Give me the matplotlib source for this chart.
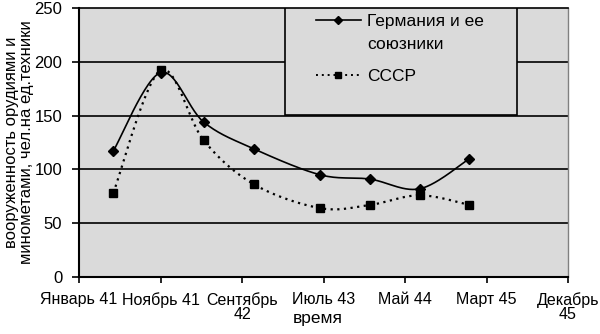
import numpy as np
import matplotlib
matplotlib.use('Agg')
import matplotlib.pyplot as plt
from matplotlib.patches import Rectangle
from matplotlib.lines import Line2D

plt.rcParams['font.family'] = ['Liberation Sans', 'DejaVu Sans']

# months since January 1941
tick_pos = [0, 10, 20, 30, 40, 50, 60]
tick_labels = ['Январь 41', 'Ноябрь 41', 'Сентябрь\n42', 'Июль 43', 'Май 44', 'Март 45', 'Декабрь\n45']

x_points = [4.2, 10.0, 15.3, 21.5, 29.6, 35.7, 41.8, 47.9]
germany = [117, 190, 144, 119, 95, 91, 82, 110]
ussr = [78, 192, 127, 86, 64, 67, 76, 67]

bg = '#dadada'


def smooth(xs, ys, n=30):
    # Catmull-Rom style smoothing like Excel's smoothed lines
    p = np.column_stack([xs, ys]).astype(float)
    pts = np.vstack([p[0], p, p[-1]])
    out = []
    t = np.linspace(0, 1, n)[:, None]
    for i in range(1, len(pts) - 2):
        p0, p1, p2, p3 = pts[i - 1], pts[i], pts[i + 1], pts[i + 2]
        c1 = p1 + (p2 - p0) / 6
        c2 = p2 - (p3 - p1) / 6
        seg = ((1 - t) ** 3) * p1 + 3 * ((1 - t) ** 2) * t * c1 + 3 * (1 - t) * t ** 2 * c2 + t ** 3 * p2
        out.append(seg)
    out = np.vstack(out)
    return out[:, 0], out[:, 1]


fig = plt.figure(figsize=(6, 3.34), dpi=100)
ax = fig.add_axes([0.1317, 0.1707, 0.815, 0.805])
ax.set_facecolor(bg)

ax.set_xlim(0, 60)
ax.set_ylim(0, 250)
ax.set_yticks([0, 50, 100, 150, 200, 250])
ax.set_xticks(tick_pos)
ax.set_xticklabels(tick_labels, fontsize=11.5, linespacing=0.95)
ax.tick_params(axis='y', labelsize=12, length=5, width=1.2, direction='out', pad=7)
ax.tick_params(axis='x', length=4, width=1.2, direction='out', pad=7)

for v in [50, 100, 150, 200]:
    ax.axhline(v, color='black', lw=1.2, zorder=1)

ax.spines['right'].set_color('#808080')
ax.spines['right'].set_linewidth(1)
ax.spines['top'].set_linewidth(1.2)
ax.spines['left'].set_linewidth(1.5)
ax.spines['bottom'].set_linewidth(1.5)

gx, gy = smooth(x_points, germany)
ax.plot(gx, gy, '-', color='black', lw=1.2, zorder=3)
ax.plot(x_points, germany, 'D', color='black', ms=5, zorder=4)

ux, uy = smooth(x_points, ussr)
ax.plot(ux, uy, color='black', lw=1.6, linestyle=(0, (1, 2)), zorder=3)
ax.plot(x_points, ussr, 's', color='black', ms=6, zorder=4)

ax.set_xlabel('время', fontsize=12.5)
ax.xaxis.set_label_coords(0.489, -0.17)
ax.xaxis.label.set_va('baseline')
ax.set_ylabel('вооруженность орудиями и\nминометами, чел.на ед.техники', fontsize=12,
              linespacing=1.0)
ax.yaxis.set_label_coords(-0.093, 0.5)

# legend box
ax.add_patch(Rectangle((0.421, 0.602), 0.475, 0.398, transform=ax.transAxes,
                       facecolor=bg, edgecolor='black', lw=1.2, zorder=5))
h1 = Line2D([], [], color='black', lw=1.2, marker='D', ms=4)
h2 = Line2D([], [], color='black', lw=1.4, linestyle=(0, (1, 2)), marker='s', ms=5)
leg = ax.legend([h1, h2], ['Германия и ее\nсоюзники', 'СССР'], loc='upper left',
                bbox_to_anchor=(0.452, 1.035), frameon=False, fontsize=12.5,
                handlelength=2.6, handletextpad=0.35, labelspacing=1.0)
leg.get_texts()[0].set_linespacing(1.6)
# put the first handle level with the first text line
lh = leg.legend_handles[0]
lh.set_ydata(np.asarray(lh.get_ydata()) + 9)
leg.set_zorder(6)

fig.savefig('out.png', dpi=100)
